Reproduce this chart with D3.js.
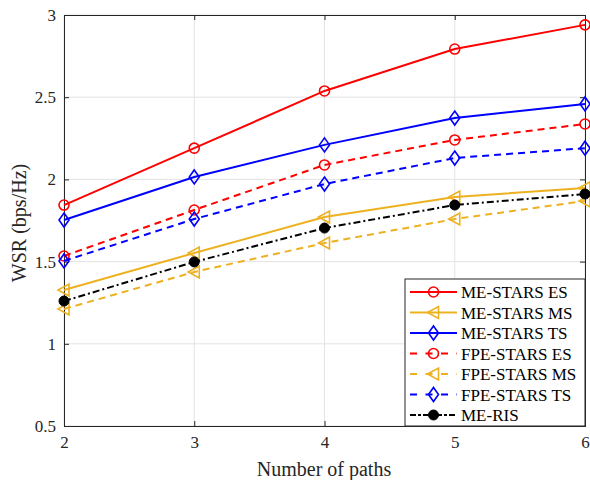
<!DOCTYPE html>
<html><head><meta charset="utf-8">
<script src="https://cdn.jsdelivr.net/npm/d3@7"></script>
<style>body{margin:0;background:#fff}svg{display:block}</style>
</head><body><svg id="c" width="590" height="480" style="font-family:'Liberation Serif'"></svg>
<script>
const paths = [2, 3, 4, 5, 6];
const xTicks = [2, 3, 4, 5, 6];
const yTicks = [0.5, 1, 1.5, 2, 2.5, 3];
const meStarsES = [1.844, 2.19, 2.538, 2.793, 2.94];
const meStarsMS = [1.327, 1.552, 1.771, 1.893, 1.948];
const meStarsTS = [1.753, 2.015, 2.21, 2.373, 2.459];
const fpeStarsES = [1.534, 1.814, 2.088, 2.24, 2.337];
const fpeStarsMS = [1.212, 1.437, 1.613, 1.759, 1.869];
const fpeStarsTS = [1.504, 1.759, 1.972, 2.13, 2.19];
const meRIS = [1.26, 1.498, 1.704, 1.844, 1.911];
const seriesNames = ["ME-STARS ES","ME-STARS MS","ME-STARS TS","FPE-STARS ES","FPE-STARS MS","FPE-STARS TS","ME-RIS"];

const FONT = "Liberation Serif";
const styles = [
  {c:"#FF0000", d:null, m:"circle"},
  {c:"#EDB120", d:null, m:"tri"},
  {c:"#0000FF", d:null, m:"diamond"},
  {c:"#FF0000", d:"7,5", m:"circle"},
  {c:"#EDB120", d:"7,5", m:"tri"},
  {c:"#0000FF", d:"7,5", m:"diamond"},
  {c:"#000000", d:"7,3,2,3", m:"dot"}
];
const data = [meStarsES, meStarsMS, meStarsTS, fpeStarsES, fpeStarsMS, fpeStarsTS, meRIS];

const L=64, R=585, T=15, B=426;
const svg = d3.select("#c");
const x = d3.scaleLinear().domain([2,6]).range([L,R]);
const y = d3.scaleLinear().domain([0.5,3]).range([B,T]);

// grid
const g = svg.append("g");
g.selectAll(".gx").data(xTicks).enter().append("line")
  .attr("x1",d=>x(d)).attr("x2",d=>x(d)).attr("y1",T).attr("y2",B)
  .attr("stroke","#e3e3e3").attr("stroke-width",1);
g.selectAll(".gy").data(yTicks).enter().append("line")
  .attr("y1",d=>y(d)).attr("y2",d=>y(d)).attr("x1",L).attr("x2",R)
  .attr("stroke","#e3e3e3").attr("stroke-width",1);

// axes
const ax = svg.append("g").attr("transform",`translate(0,${B})`)
  .call(d3.axisBottom(x).tickValues(xTicks).tickSize(-5).tickPadding(10).tickFormat(d3.format("d")));
const ay = svg.append("g").attr("transform",`translate(${L},0)`)
  .call(d3.axisLeft(y).tickValues(yTicks).tickSize(-5).tickPadding(8).tickFormat(d=>String(d)));
const axT = svg.append("g").attr("transform",`translate(0,${T})`)
  .call(d3.axisTop(x).tickValues(xTicks).tickSize(-5).tickFormat(""));
const ayR = svg.append("g").attr("transform",`translate(${R},0)`)
  .call(d3.axisRight(y).tickValues(yTicks).tickSize(-5).tickFormat(""));
[ax,ay,axT,ayR].forEach(a=>{
  a.attr("font-family",FONT);
  a.select(".domain").attr("stroke","#262626").attr("stroke-width",1);
  a.selectAll(".tick line").attr("stroke","#262626");
  a.selectAll(".tick text").attr("font-size",17).attr("fill","#262626")
   .attr("font-family",FONT).style("font-family",FONT);
});

function marker(sel, m, c){
  if(m==="circle") sel.append("circle").attr("r",5).attr("fill","none").attr("stroke",c).attr("stroke-width",1.6);
  else if(m==="dot") sel.append("circle").attr("r",5).attr("fill",c).attr("stroke",c).attr("stroke-width",1);
  else if(m==="diamond") sel.append("path").attr("d","M0,-7L5,0L0,7L-5,0Z").attr("fill","none").attr("stroke",c).attr("stroke-width",1.6);
  else if(m==="tri") sel.append("path").attr("d","M-6,0L5,-6L5,6Z").attr("fill","none").attr("stroke",c).attr("stroke-width",1.6);
}

const line = d3.line().x((d,i)=>x(paths[i])).y(d=>y(d));
data.forEach((vals,k)=>{
  const s = styles[k];
  svg.append("path").datum(vals).attr("d",line).attr("fill","none")
    .attr("stroke",s.c).attr("stroke-width",2).attr("stroke-dasharray",s.d);
  vals.forEach((v,i)=>{
    const mg = svg.append("g").attr("transform",`translate(${x(paths[i])},${y(v)})`);
    marker(mg, s.m, s.c);
  });
});

// axis titles
svg.append("text").attr("x",324).attr("y",476).attr("text-anchor","middle").attr("font-size",20)
  .style("font-family",FONT).attr("fill","#262626").text("Number of paths");
svg.append("text").attr("transform",`translate(26,223) rotate(-90)`).attr("text-anchor","middle").attr("font-size",20)
  .style("font-family",FONT).attr("fill","#262626").text("WSR (bps/Hz)");

// legend
const lg = svg.append("g");
lg.append("rect").attr("x",405).attr("y",279).attr("width",180).attr("height",147)
  .attr("fill","#fff").attr("stroke","#262626").attr("stroke-width",1);
seriesNames.forEach((n,k)=>{
  const s = styles[k];
  const yy = 292 + k*20.5;
  lg.append("line").attr("x1",410).attr("x2",457).attr("y1",yy).attr("y2",yy)
    .attr("stroke",s.c).attr("stroke-width",2).attr("stroke-dasharray", s.d ? (k===6?"6,2,3,2":"7,8.5") : null);
  const mg = lg.append("g").attr("transform",`translate(433.5,${yy})`);
  marker(mg, s.m, s.c);
  lg.append("text").attr("x",461).attr("y",yy+6).attr("font-size",17).attr("fill","#000")
    .style("font-family",FONT).text(n);
});
</script></body></html>
